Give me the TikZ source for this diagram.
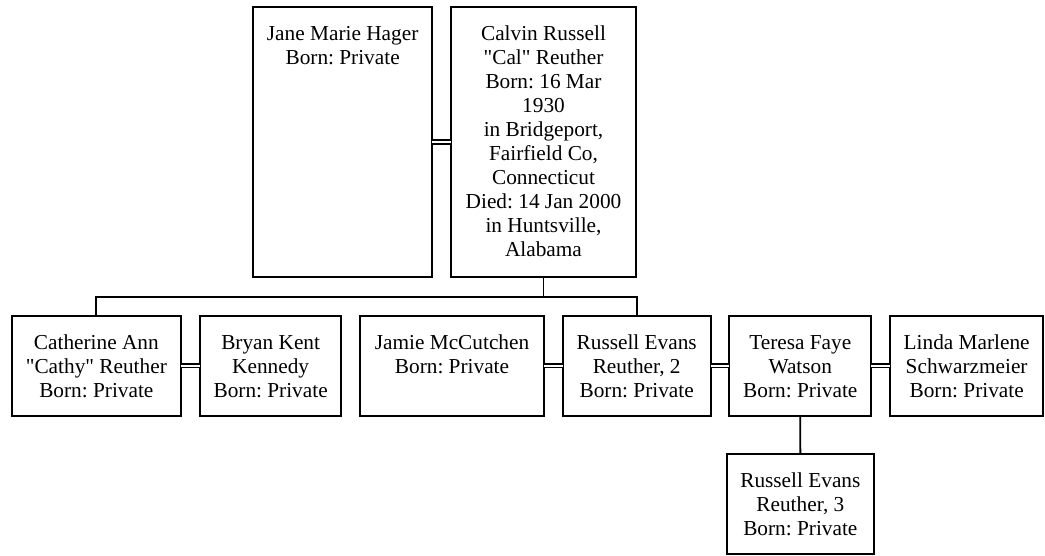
\documentclass[tikz,border=0pt]{standalone}
\usepackage{fontspec}
\setmainfont{Liberation Serif}[Ligatures=TeXOff]
\frenchspacing
\newcommand{\cardtext}[3]{\parbox[b][#2pt][t]{#1pt}{\centering\fontsize{21.3}{24}\selectfont\frenchspacing\rule{0pt}{33pt}#3}}
\tikzset{
  famcard/.style={draw, line width=1.8pt, inner sep=0pt, outer sep=0pt, anchor=north west},
  kin/.style={line width=1.8pt},
  couple/.style={double, double distance=2.6pt, line width=1.3pt}
}
\begin{document}
\begin{tikzpicture}[x=1pt,y=1pt]
\useasboundingbox (0,0) rectangle (1045,-556);
\node[famcard] (jane) at (253.3,-7.3) {\cardtext{178.7}{269.4}{Jane Marie Hager\\Born: Private}};
\node[famcard] (calvin) at (451,-7.3) {\cardtext{185}{269.4}{Calvin Russell\\"Cal" Reuther\\Born: 16 Mar\\1930\\in Bridgeport,\\Fairfield Co,\\Connecticut\\Died: 14 Jan 2000\\in Huntsville,\\Alabama}};
\node[famcard] (cath) at (12,-316) {\cardtext{168.7}{99.7}{Catherine Ann\\"Cathy" Reuther\\Born: Private}};
\node[famcard] (bryan) at (200,-316) {\cardtext{141.3}{99.7}{Bryan Kent\\Kennedy\\Born: Private}};
\node[famcard] (jamie) at (360.3,-316) {\cardtext{183.4}{99.7}{Jamie McCutchen\\Born: Private}};
\node[famcard] (russtwo) at (562.7,-316) {\cardtext{148}{99.7}{Russell Evans\\Reuther, 2\\Born: Private}};
\node[famcard] (teresa) at (729.3,-316) {\cardtext{142}{99.7}{Teresa Faye\\Watson\\Born: Private}};
\node[famcard] (linda) at (890,-316) {\cardtext{153.3}{99.7}{Linda Marlene\\Schwarzmeier\\Born: Private}};
\node[famcard] (russthree) at (726.7,-454.3) {\cardtext{147.3}{99.7}{Russell Evans\\Reuther, 3\\Born: Private}};
\coordinate (bar) at (0,-296.7);
% couples
\draw[couple] (jane.east) -- (calvin.west);
\draw[couple] (cath.east) -- (bryan.west);
\draw[couple] (jamie.east) -- (russtwo.west);
\draw[couple] (russtwo.east) -- (teresa.west);
\draw[couple] (teresa.east) -- (linda.west);
% children
\draw[kin] (calvin.south) -- (calvin.south |- bar);
\draw[kin] (cath.north) |- (russtwo.north |- bar) -- (russtwo.north);
\draw[kin] (teresa.south) -- (russthree.north);
\end{tikzpicture}
\end{document}
